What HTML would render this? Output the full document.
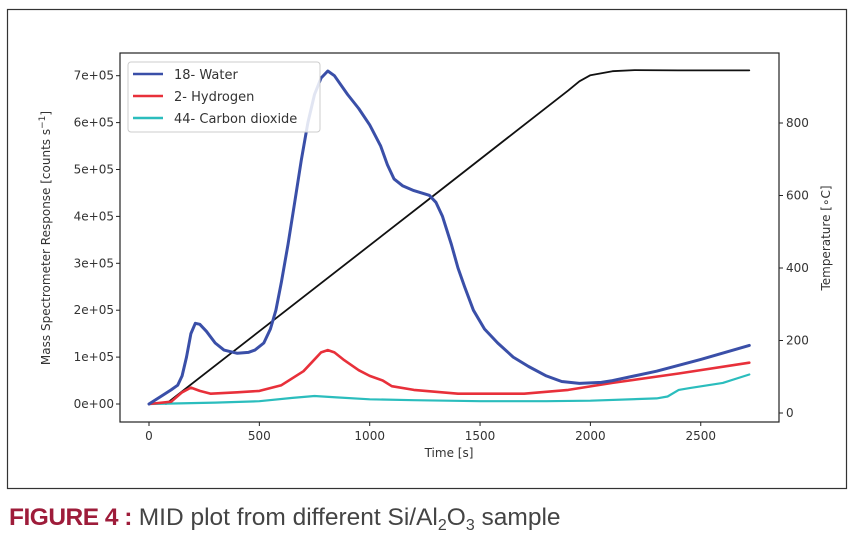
<!DOCTYPE html>
<html><head><meta charset="utf-8"><style>
body{margin:0;background:#fff;width:857px;height:540px;overflow:hidden;font-family:"Liberation Sans","DejaVu Sans",sans-serif;}
#cap{position:absolute;left:9px;top:504px;font-size:24.5px;color:#444;white-space:nowrap;letter-spacing:0px}
#cap b{color:#9e1c3a;letter-spacing:-0.5px}
#cap sub{font-size:16px;vertical-align:-5px;line-height:0}
</style></head><body>
<svg id="chart" width="857" height="540" style="position:absolute;left:0;top:0" font-family="DejaVu Sans, Liberation Sans, sans-serif">
<rect x="7.5" y="9.5" width="839" height="479" fill="none" stroke="#333" stroke-width="1.2"/>
<g id="g"></g>
</svg>
<div id="cap"><b>FIGURE 4 :</b> MID plot from different Si/Al<sub>2</sub>O<sub>3</sub> sample</div>
<script>
const xTicks=[0,500,1000,1500,2000,2500];
const yTicks=[0,1,2,3,4,5,6,7];
const yTickLabels=["0e+00","1e+05","2e+05","3e+05","4e+05","5e+05","6e+05","7e+05"];
const tTicks=[0,200,400,600,800];
const waterT=[0,50,100,130,150,170,190,210,230,260,300,340,400,450,480,520,550,575,600,630,660,690,720,750,780,810,840,900,950,1000,1050,1080,1110,1150,1200,1270,1300,1330,1370,1400,1430,1470,1520,1580,1650,1720,1800,1870,1950,2050,2100,2300,2500,2720];
const waterV=[0,0.15,0.3,0.4,0.6,1.0,1.5,1.72,1.7,1.55,1.3,1.15,1.08,1.1,1.15,1.3,1.6,2.0,2.6,3.4,4.3,5.2,6.0,6.6,6.95,7.1,7.0,6.6,6.3,5.95,5.5,5.1,4.8,4.65,4.55,4.45,4.3,4.0,3.4,2.9,2.5,2.0,1.6,1.3,1.0,0.8,0.6,0.48,0.44,0.46,0.5,0.7,0.95,1.25];
const h2T=[0,100,150,190,230,280,400,500,600,700,740,780,810,840,880,950,1000,1060,1100,1200,1400,1700,1900,2100,2400,2720];
const h2V=[0,0.05,0.25,0.35,0.28,0.22,0.25,0.28,0.4,0.7,0.9,1.1,1.15,1.1,0.95,0.72,0.6,0.5,0.38,0.3,0.22,0.22,0.3,0.45,0.65,0.88];
const co2T=[0,300,500,650,750,850,1000,1200,1500,1800,2000,2300,2350,2400,2450,2600,2720];
const co2V=[0,0.03,0.06,0.13,0.17,0.14,0.1,0.08,0.06,0.06,0.07,0.12,0.16,0.3,0.34,0.45,0.63];
const tempT=[77,1290,1900,1950,2000,2100,2200,2400,2720];
const tempV=[25,600,890,915,932,943,946,945,945];
const L=120,R=779,T=53,B=422;
const X=t=>149+t*0.2207;
const Y=v=>404-v*46.9;
const YT=v=>413-v*0.3625;
const g=document.getElementById('g');
const NS='http://www.w3.org/2000/svg';
function mk(tag,attrs,parent){const e=document.createElementNS(NS,tag);for(const k in attrs)e.setAttribute(k,attrs[k]);(parent||g).appendChild(e);return e;}
function line(ts,vs,f,color,w,name){
  const d=ts.map((t,i)=>(i?'L':'M')+X(t).toFixed(1)+','+f(vs[i]).toFixed(1)).join(' ');
  const p=mk('path',{d:d,fill:'none',stroke:color,'stroke-width':w,'stroke-linejoin':'round','stroke-linecap':'round'});
  
  
}
const ax=mk('rect',{x:L,y:T,width:R-L,height:B-T,fill:'none',stroke:'#222','stroke-width':1.2});


xTicks.forEach(t=>{
  mk('line',{x1:X(t),x2:X(t),y1:B,y2:B+4,stroke:'#222'});
  const tx=mk('text',{x:X(t),y:B+18,'text-anchor':'middle','font-size':12,fill:'#333'});tx.textContent=t;
  
  
});
yTicks.forEach((v,i)=>{
  mk('line',{x1:L-4,x2:L,y1:Y(v),y2:Y(v),stroke:'#222'});
  const tx=mk('text',{x:L-6,y:Y(v)+4,'text-anchor':'end','font-size':12,fill:'#333'});tx.textContent=yTickLabels[i];
  
  
});
tTicks.forEach(v=>{
  mk('line',{x1:R,x2:R+4,y1:YT(v),y2:YT(v),stroke:'#222'});
  const tx=mk('text',{x:R+7,y:YT(v)+4,'font-size':12,fill:'#333'});tx.textContent=v;
  
  
});
let t1=mk('text',{x:449,y:457,'text-anchor':'middle','font-size':12,fill:'#333'});t1.textContent='Time [s]';


let t2=mk('text',{x:0,y:0,'text-anchor':'middle','font-size':12,fill:'#333',transform:'translate(50,238) rotate(-90)'});t2.innerHTML='Mass Spectrometer Response [counts s<tspan dy="-5" font-size="9">−1</tspan><tspan dy="5">]</tspan>';


let t3=mk('text',{x:0,y:0,'text-anchor':'middle','font-size':12,fill:'#333',transform:'translate(830,238) rotate(-90)'});t3.textContent='Temperature [∘C]';


line(tempT,tempV,YT,'#111',1.8,'temperature-line');
line(co2T,co2V,Y,'#2bbdbd',2.2,'co2-line');
line(h2T,h2V,Y,'#e8303a',2.6,'hydrogen-line');
line(waterT,waterV,Y,'#3a4fa8',3,'water-line');
const lg=mk('rect',{x:128,y:62,width:192,height:70,fill:'#fff','fill-opacity':0.85,stroke:'#ccc',rx:3});


[['18- Water','#3a4fa8'],['2- Hydrogen','#e8303a'],['44- Carbon dioxide','#2bbdbd']].forEach((e,i)=>{
  const y=74+i*22;
  mk('line',{x1:133,x2:163,y1:y,y2:y,stroke:e[1],'stroke-width':2.5});
  const tx=mk('text',{x:174,y:y+5,'font-size':13,fill:'#333'});tx.textContent=e[0];
  
  
});
</script>
</body></html>
